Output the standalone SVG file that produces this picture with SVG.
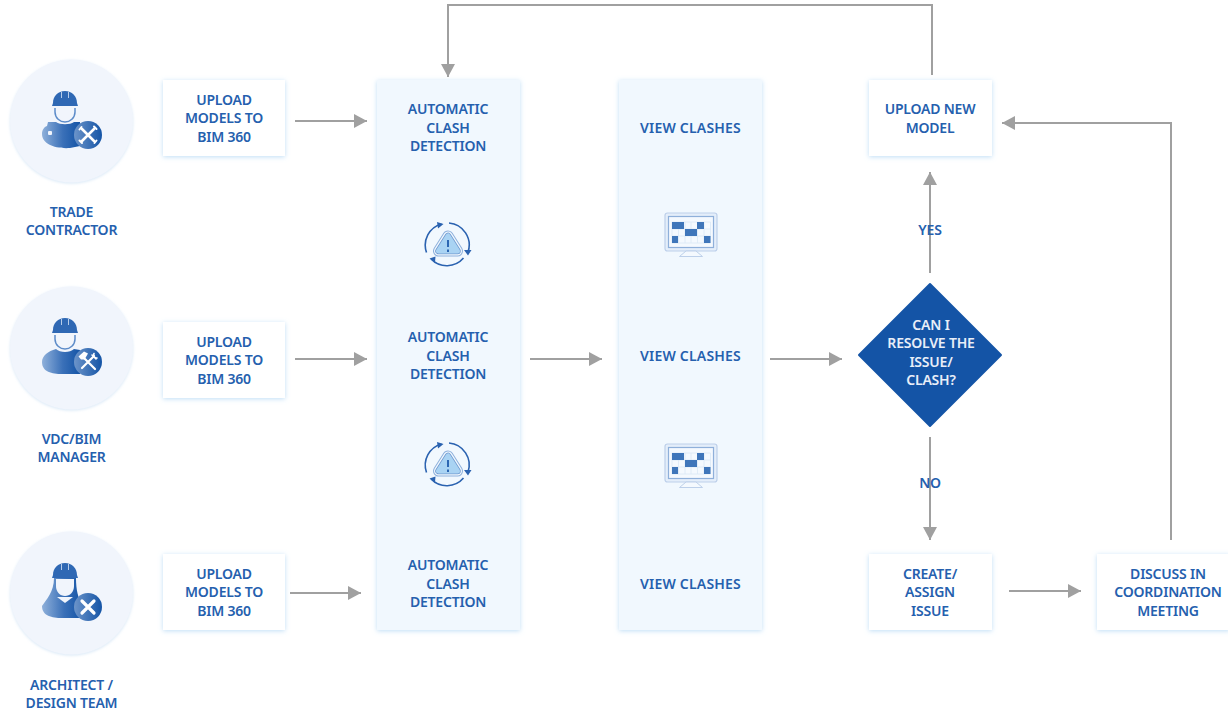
<svg xmlns="http://www.w3.org/2000/svg" width="1228" height="710" viewBox="0 0 1228 710">
<style>
text{font-family:"Noto Sans","Open Sans",sans-serif;font-size:14px;font-weight:600;fill:#2560ae;text-anchor:middle;letter-spacing:-.2px}
.vc{letter-spacing:.2px}
.box{fill:#fff;filter:url(#sh)}
.panel{fill:#f1f8fe;filter:url(#sh)}
.circ{fill:#f1f5fc;filter:url(#sh2)}
.c{fill:none;stroke:#a0a0a0;stroke-width:2;marker-end:url(#ah)}
.gl{fill:none;stroke:#fff;stroke-linecap:round}
</style>
<defs>
<filter id="sh" x="-15%" y="-15%" width="130%" height="130%"><feDropShadow dx="0" dy="1" stdDeviation="2.500" flood-color="#b4d8f4" flood-opacity=".85"/></filter>
<filter id="sh2" x="-15%" y="-15%" width="130%" height="130%"><feDropShadow dx="0" dy="1" stdDeviation="1.500" flood-color="#d5e6f6" flood-opacity=".9"/></filter>
<marker id="ah" markerUnits="userSpaceOnUse" markerWidth="15" markerHeight="14" refX="13" refY="7" orient="auto"><path d="M0 0L13 7L0 14Z" fill="#a0a0a0"/></marker>
<linearGradient id="g" x1="0" x2="1" y1="0" y2="0"><stop offset="0" stop-color="#8fb0da"/><stop offset=".55" stop-color="#3a70b8"/><stop offset="1" stop-color="#1454a6"/></linearGradient>
<linearGradient id="gb" x1="0" x2="1" y1="0" y2="0"><stop offset="0" stop-color="#6c94c9"/><stop offset="1" stop-color="#1454a6"/></linearGradient>
<g id="hat"><path d="M53 103C53 96 58 91 65 91C72 91 77 96 77 103L78 106H52Z" fill="#2f68b4"/><path d="M61.500 92v6M68.500 92v6" stroke="#dbe6f5" stroke-width=".8"/></g>
<g id="alert">
<g stroke-linejoin="round"><path d="M448 236L438.500 251H457.500Z" fill="#a9d3f3" stroke="#8db0dc" stroke-width="11"/>
<path d="M448 236L438.500 251H457.500Z" fill="#f1f8fe" stroke="#f1f8fe" stroke-width="9"/>
<path d="M448 236L438.500 251H457.500Z" fill="#a9d3f3" stroke="#6f98cf" stroke-width="6.500"/>
<path d="M448 236L438.500 251H457.500Z" fill="#a9d3f3" stroke="#a9d3f3" stroke-width="5"/></g>
<path d="M448 240v7M448 249.500v2.500" stroke="#1f5bac" stroke-width="1.800"/>
<path d="M426.500 252.500A22 22 0 0 1 441.500 224M449 223A22 22 0 0 1 468 252M463.500 258A22 22 0 0 1 431 259" fill="none" stroke="#2a62b0" stroke-width="1.600"/>
<path d="M437 222L443.500 224L438 228.500ZM464 250L471.500 250L468 255.500ZM429.500 258.500L435.500 256.500L435 262.500Z" fill="#2a62b0"/>
</g>
<g id="mon">
<rect x="665" y="213" width="52" height="38" rx="2.500" fill="#e4eefa" stroke="#bdd0ea" stroke-width="1.200"/>
<rect x="668.500" y="216.500" width="45" height="31" fill="#f4f9fe" stroke="#8fb0da" stroke-width="1.200"/>
<path d="M672 222h38.500v21h-38.500zM672 229h38.500M672 236h38.500M678.500 222v21M685 222v21M691 222v21M697.500 222v21M704 222v21" fill="none" stroke="#dbe8f6" stroke-width=".8"/>
<path d="M672 222h12v7h-12zM697 222h7v7h-7zM685 229h12v7h-12zM672 236h6v7h-6zM704 236h6.500v7h-6.500z" fill="#3f76ba"/>
<path d="M679.500 256.500L686 251H696L702.500 256.500Z" fill="#f4f9fe" stroke="#bdd0ea"/>
</g>
</defs>
<rect width="1228" height="710" fill="#fff"/>

<g id="trade-contractor">
<circle class="circ" cx="71.500" cy="121" r="61.500"/>
<use href="#hat"/>
<path d="M55 108V112C55 118 60 122 65 122C70 122 75 118 75 112V108" fill="none" stroke="#5d8cc9" stroke-width="1.500"/>
<path d="M48 122H56C60 125 70 125 74 122H80V146L70 148C55 149 42 144 42 134C42 130 44 127 47 126Z" fill="url(#g)"/>
<rect x="48" y="131" width="4" height="4" rx="1" fill="#f1f5fc"/>
<circle cx="88" cy="135" r="14" fill="url(#gb)"/>
<path class="gl" d="M82 129L94 141M94 129L82 141" stroke-width="2.600"/><path class="gl" d="M79.500 129.500L81.500 127M96.500 140.500L94.500 143M94 126.500L96.500 129M79.500 140.500L82 143" stroke-width="2"/>
<text x="71.500" y="217">TRADE</text><text x="71.500" y="235">CONTRACTOR</text>
</g>
<g id="vdc-bim-manager">
<circle class="circ" cx="71.500" cy="348" r="61.500"/>
<use href="#hat" y="227"/>
<path d="M55 335V339C55 345 60 349 65 349C70 349 75 345 75 339V335" fill="none" stroke="#5d8cc9" stroke-width="1.500"/>
<path d="M56 349C60 353 70 353 74 349L80 350V374H62C52 374 42 372 42 362C42 356 48 351 56 349Z" fill="url(#g)"/>
<circle cx="88" cy="362" r="14" fill="url(#gb)"/>
<path class="gl" d="M84 358L95 369M94 356L82 368" stroke-width="2.200"/><path d="M78.500 356.500L84 351.500L88 353.500L84.500 359.500L81 359.500Z" fill="#fff"/><path class="gl" d="M94 353.500A3 3 0 0 0 97 358M92 355L96 359" stroke-width="1.600"/>
<text x="71.500" y="444">VDC/BIM</text><text x="71.500" y="462">MANAGER</text>
</g>
<g id="architect-design-team">
<circle class="circ" cx="71.500" cy="593" r="61.500"/>
<use href="#hat" y="472"/>
<path d="M54 578H76C76 590 78 598 82 604L80 618H62C52 618 42 616 42 606C46 600 54 592 54 578Z" fill="url(#g)"/>
<path d="M56 579H74V586C74 592 70 596 65 596C60 596 56 592 56 586Z" fill="#f1f5fc"/>
<path d="M57 597L73 597L65 603Z" fill="#f1f5fc"/>
<circle cx="88" cy="607" r="14" fill="url(#gb)"/>
<path class="gl" d="M82 601L94 613M94 601L82 613" stroke-width="3.200"/>
<text x="71.500" y="689.500">ARCHITECT /</text><text x="71.500" y="707.500">DESIGN TEAM</text>
</g>

<g id="upload-1"><rect class="box" x="163" y="80" width="122" height="76"/><text x="224" y="105">UPLOAD</text><text x="224" y="123">MODELS TO</text><text x="224" y="141.500">BIM 360</text></g>
<g id="upload-2"><rect class="box" x="163" y="322" width="122" height="76"/><text x="224" y="347">UPLOAD</text><text x="224" y="365">MODELS TO</text><text x="224" y="383.500">BIM 360</text></g>
<g id="upload-3"><rect class="box" x="163" y="554" width="122" height="76"/><text x="224" y="579">UPLOAD</text><text x="224" y="597">MODELS TO</text><text x="224" y="615.500">BIM 360</text></g>

<g id="clash-detection">
<rect class="panel" x="377" y="80" width="143" height="550"/>
<text x="448" y="114">AUTOMATIC</text><text x="448" y="132.500">CLASH</text><text x="448" y="150.500">DETECTION</text>
<use href="#alert"/>
<text x="448" y="342">AUTOMATIC</text><text x="448" y="360.500">CLASH</text><text x="448" y="378.500">DETECTION</text>
<use href="#alert" y="220"/>
<text x="448" y="570">AUTOMATIC</text><text x="448" y="588.500">CLASH</text><text x="448" y="606.500">DETECTION</text>
</g>
<g id="view-clashes">
<rect class="panel" x="619" y="80" width="143" height="550"/>
<text class="vc" x="690.500" y="132.500">VIEW CLASHES</text>
<use href="#mon"/>
<text class="vc" x="690.500" y="360.500">VIEW CLASHES</text>
<use href="#mon" y="231"/>
<text class="vc" x="690.500" y="588.500">VIEW CLASHES</text>
</g>
<g id="upload-new-model"><rect class="box" x="869" y="80" width="123" height="76"/><text x="930" y="114">UPLOAD NEW</text><text x="930" y="132.500">MODEL</text></g>
<g id="decision">
<path d="M930 284L1001 355L930 426L859 355Z" fill="#1454a6" stroke="#1454a6" stroke-width="2" stroke-linejoin="round"/>
<text x="931" y="330" style="fill:#e8eef8">CAN I</text><text x="931" y="348" style="fill:#e8eef8">RESOLVE THE</text><text x="931" y="366.500" style="fill:#e8eef8">ISSUE/</text><text x="931" y="385" style="fill:#e8eef8">CLASH?</text>
</g>
<g id="create-assign"><rect class="box" x="869" y="554" width="123" height="76"/><text x="930" y="579">CREATE/</text><text x="930" y="597">ASSIGN</text><text x="930" y="615.500">ISSUE</text></g>
<g id="discuss"><rect class="box" x="1097" y="554" width="133" height="76"/><text x="1168" y="579">DISCUSS IN</text><text x="1168" y="597">COORDINATION</text><text x="1168" y="615.500">MEETING</text></g>

<g id="connectors">
<path class="c" d="M295 121H367"/>
<path class="c" d="M295 359H367"/>
<path class="c" d="M290 593H361"/>
<path class="c" d="M530 359H602"/>
<path class="c" d="M770 359H842"/>
<path class="c" d="M930 273V172"/>
<path class="c" d="M930 437V540"/>
<path class="c" d="M1009 591H1081"/>
<path class="c" d="M1171 540V123H1002"/>
<path class="c" d="M932 75V5H448V77"/>
</g>
<g id="edge-labels"><text x="930" y="235">YES</text><text x="930" y="488">NO</text></g>
</svg>
